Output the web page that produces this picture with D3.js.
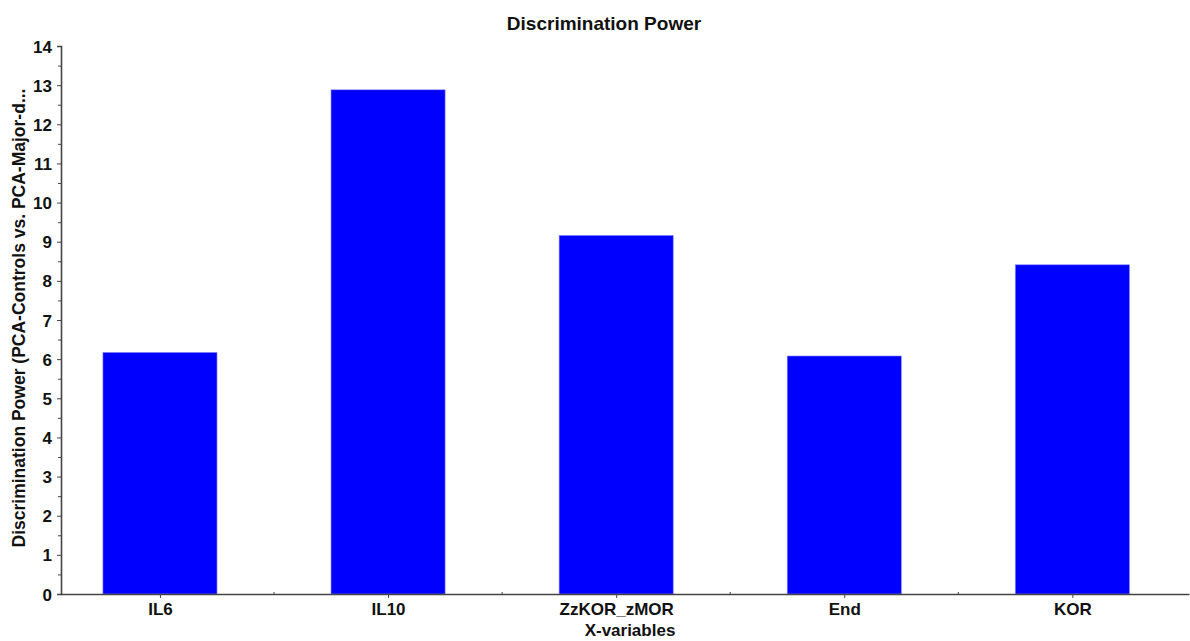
<!DOCTYPE html>
<html>
<head>
<meta charset="utf-8">
<script src="https://cdn.jsdelivr.net/npm/d3@7"></script>
<style>
  body { margin: 0; background: #fff; }
  svg { display: block; font-family: "Liberation Sans", Arial, sans-serif; }
</style>
</head>
<body>
<svg id="chart" width="1190" height="641"></svg>
<script>
//
// Data
//

var categories = ['IL6', 'IL10', 'ZzKOR_zMOR', 'End', 'KOR']
var values = [6.17, 12.88, 9.16, 6.08, 8.41]
var yTicks = [0, 1, 2, 3, 4, 5, 6, 7, 8, 9, 10, 11, 12, 13, 14]

var title = 'Discrimination Power'
var xTitle = 'X-variables'
var yTitle = 'Discrimination Power (PCA-Controls vs. PCA-Major-d...'

//
// Layout
//

var width = 1190
var height = 641
var margin = { top: 46, right: 1, bottom: 47, left: 61 }
var colorBar = '#0000ff'
var colorAxis = '#444'

var svg = d3.select('#chart')

var x = d3.scalePoint()
  .domain(categories)
  .range([margin.left, width - margin.right])
  .padding(0.4726)
  .align(0.459)

var y = d3.scaleLinear()
  .domain([0, 14])
  .range([height - margin.bottom, margin.top])

var barWidth = x.step() * 0.5

//
// Bars
//

svg.append('g')
  .selectAll('rect')
  .data(categories)
  .join('rect')
    .attr('x', function(d) { return x(d) - barWidth / 2 })
    .attr('y', function(d, i) { return y(values[i]) })
    .attr('width', barWidth)
    .attr('height', function(d, i) { return y(0) - y(values[i]) })
    .attr('fill', colorBar)
    .attr('stroke', '#7f7fff')
    .attr('stroke-width', 0.6)

//
// Axes
//

var yAxis = d3.axisLeft(y)
  .tickValues(yTicks)
  .tickSize(4)
  .tickPadding(5)
  .tickFormat(d3.format('d'))

var yMinor = d3.axisLeft(y)
  .tickValues(yTicks.slice(0, -1).map(function(d) { return d + 0.5 }))
  .tickSize(3)
  .tickFormat('')

var gy = svg.append('g')
  .attr('transform', 'translate(' + margin.left + ',0)')
  .call(yAxis)
svg.append('g')
  .attr('transform', 'translate(' + margin.left + ',0)')
  .call(yMinor)
  .call(function(g) { g.select('.domain').remove() })

var xAxis = d3.axisBottom(x)
  .tickSize(4)
  .tickSizeOuter(0)
  .tickPadding(5)

var gx = svg.append('g')
  .attr('transform', 'translate(0,' + y(0) + ')')
  .call(xAxis)

// minor ticks halfway between categories
svg.append('g')
  .selectAll('line')
  .data(categories.slice(1))
  .join('line')
    .attr('x1', function(d) { return x(d) - x.step() / 2 })
    .attr('x2', function(d) { return x(d) - x.step() / 2 })
    .attr('y1', y(0) - 2)
    .attr('y2', y(0))
    .attr('stroke', colorAxis)

svg.selectAll('.domain')
  .attr('stroke', colorAxis)
  .attr('stroke-width', 1.6)
svg.selectAll('.tick line')
  .attr('stroke', colorAxis)
svg.selectAll('.tick text')
  .attr('fill', '#111')
  .attr('font-size', 17)
  .attr('font-weight', 'bold')
  .attr('font-family', '"Liberation Sans", Arial, sans-serif')
gy.selectAll('.tick text').attr('dy', '0.36em')

//
// Titles
//

svg.append('text')
  .attr('x', 604)
  .attr('y', 30)
  .attr('text-anchor', 'middle')
  .attr('font-size', 19)
  .attr('font-weight', 'bold')
  .attr('fill', '#111')
  .text(title)

svg.append('text')
  .attr('x', 630)
  .attr('y', 636)
  .attr('text-anchor', 'middle')
  .attr('font-size', 17)
  .attr('font-weight', 'bold')
  .attr('fill', '#111')
  .text(xTitle)

svg.append('text')
  .attr('transform', 'translate(25,' + 318 + ') rotate(-90)')
  .attr('text-anchor', 'middle')
  .attr('font-size', 17.5)
  .attr('font-weight', 'bold')
  .attr('fill', '#111')
  .text(yTitle)
</script>
</body>
</html>
